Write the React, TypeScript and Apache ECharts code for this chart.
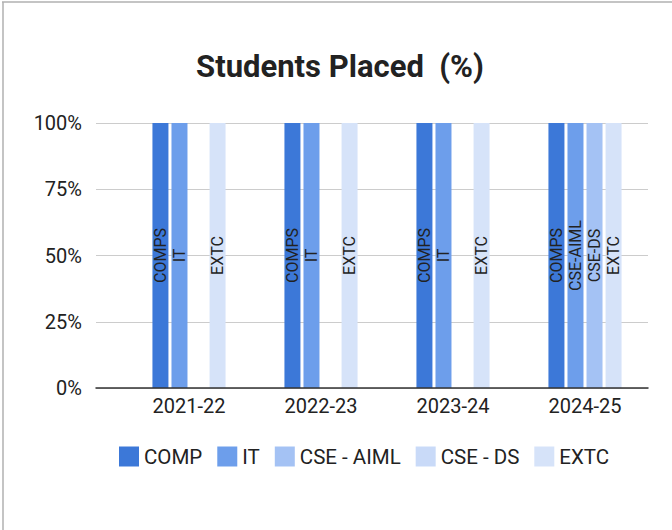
import React, { useEffect, useRef } from "react";
import * as echarts from "echarts";

const categories = ["2021-22", "2022-23", "2023-24", "2024-25"];
const yTicks = [0, 25, 50, 75, 100];

const compValues = [100, 100, 100, 100];
const itValues = [100, 100, 100, null];
const cseAimlValues = [null, null, null, 100];
const cseDsValues = [null, null, null, 100];
const extcValues = [100, 100, 100, 100];

const seriesNames = ["COMP", "IT", "CSE - AIML", "CSE - DS", "EXTC"];
const barLabels = ["COMPS", "IT", "CSE-AIML", "CSE-DS", "EXTC"];

const FONT = "Roboto, 'Noto Sans', sans-serif";

export default function App() {
  const ref = useRef<HTMLDivElement>(null);
  useEffect(() => {
    if (!ref.current) return;
    const chart = echarts.init(ref.current, undefined, { renderer: "svg" });

    const legendColors = ["#3c78d8", "#6d9eeb", "#a4c2f4", "#c9daf8", "#d6e3f9"];
    const barColors = ["#3c78d8", "#6d9eeb", "#6d9eeb", "#a4c2f4", "#d6e3f9"];
    const stacks = ["s1", "s2", "s2", "s3", "s4"];
    const valueLists = [compValues, itValues, cseAimlValues, cseDsValues, extcValues];

    const series = valueLists.map((vals, i) => ({
      name: seriesNames[i],
      type: "bar",
      stack: stacks[i],
      xAxisIndex: 1,
      yAxisIndex: 1,
      barWidth: 16,
      barGap: "19%",
      itemStyle: { color: legendColors[i] },
      label: {
        show: true,
        position: "inside",
        rotate: 90,
        formatter: () => barLabels[i],
        color: "#222",
        fontSize: 16,
        fontFamily: FONT,
      },
      data: vals.map((v) =>
        v == null ? null : { value: v, itemStyle: { color: barColors[i] } }
      ),
    }));

    chart.setOption({
      animation: false,
      backgroundColor: "#fff",
      textStyle: { fontFamily: FONT },
      title: {
        text: "Students Placed  (%)",
        left: 335,
        textAlign: "center",
        top: 46,
        textStyle: { fontSize: 31, fontWeight: "bold", color: "#222", fontFamily: FONT },
      },
      legend: {
        data: seriesNames,
        top: 446,
        left: 119,
        padding: 0,
        itemWidth: 20,
        itemHeight: 20,
        itemGap: 15,
        icon: "rect",
        textStyle: { fontSize: 20.5, color: "#222", fontFamily: FONT },
      },
      grid: [
        { left: 96, right: 24, top: 123, bottom: 142 },
        { left: 123, right: 21, top: 123, bottom: 142 },
      ],
      xAxis: [
        {
          type: "category",
          gridIndex: 0,
          data: categories,
          axisLabel: { show: false },
          axisTick: { show: false },
          axisLine: { show: true, lineStyle: { color: "#333", width: 1.5 } },
          z: 5,
        },
        {
          type: "category",
          gridIndex: 1,
          data: categories,
          axisLine: { show: false },
          axisTick: { show: false },
          axisLabel: { color: "#222", fontSize: 20, margin: 8, fontFamily: FONT },
        },
      ],
      yAxis: [
        {
          type: "value",
          gridIndex: 0,
          min: yTicks[0],
          max: yTicks[yTicks.length - 1],
          interval: 25,
          axisLine: { show: false },
          axisTick: { show: false },
          axisLabel: {
            formatter: "{value}%",
            color: "#222",
            fontSize: 20,
            margin: 14,
            fontFamily: FONT,
          },
          splitLine: { lineStyle: { color: "#cccccc", width: 1 } },
        },
        {
          type: "value",
          gridIndex: 1,
          min: 0,
          max: 100,
          show: false,
          splitLine: { show: false },
        },
      ],
      graphic: [
        {
          type: "line",
          shape: { x1: 3, y1: 2, x2: 3, y2: 530 },
          style: { stroke: "#b0b0b0", lineWidth: 1.5 },
        },
        {
          type: "line",
          shape: { x1: 2, y1: 2, x2: 672, y2: 2 },
          style: { stroke: "#b0b0b0", lineWidth: 1.5 },
        },
      ],
      series,
    });
    return () => chart.dispose();
  }, []);
  return (
    <div
      ref={ref}
      style={{ position: "fixed", left: 0, top: 0, width: 672, height: 530, background: "#fff" }}
    />
  );
}
